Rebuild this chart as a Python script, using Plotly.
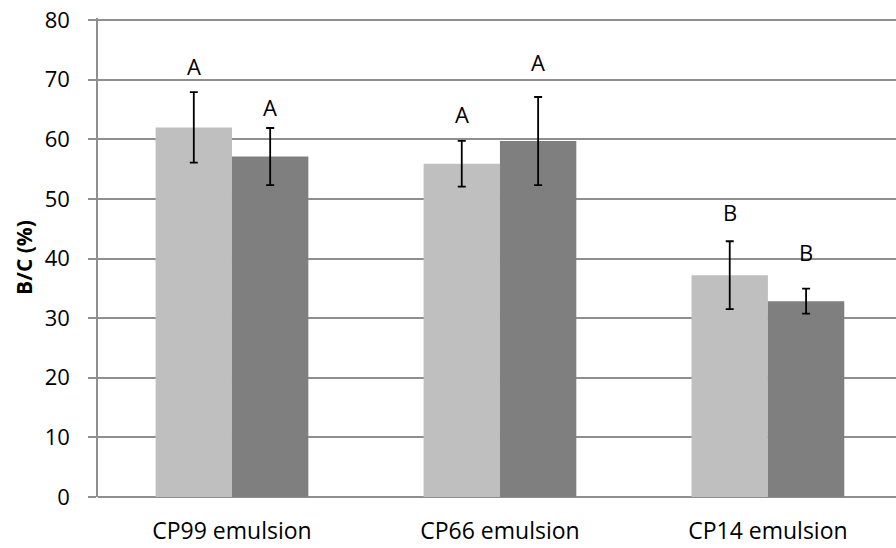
import plotly.graph_objects as go

categories = ["CP99 emulsion", "CP66 emulsion", "CP14 emulsion"]
series1_values = [62.0, 55.9, 37.2]
series1_err = [5.9, 3.85, 5.7]
series2_values = [57.1, 59.7, 32.85]
series2_err = [4.8, 7.4, 2.1]
series1_letters = ["A", "A", "B"]
series2_letters = ["A", "A", "B"]
series1_letter_y = [72.3, 64.2, 47.8]
series2_letter_y = [65.5, 73.0, 41.1]
y_ticks = [0, 10, 20, 30, 40, 50, 60, 70, 80]

FONT = "Open Sans"
GRID = "#8f8f8f"
fig = go.Figure()
fig.add_trace(go.Bar(
    x=categories, y=series1_values, name="S1",
    marker=dict(color="#bfbfbf", line=dict(width=0)),
    error_y=dict(type="data", array=series1_err, color="black", thickness=1.8, width=4),
))
fig.add_trace(go.Bar(
    x=categories, y=series2_values, name="S2",
    marker=dict(color="#7f7f7f", line=dict(width=0)),
    error_y=dict(type="data", array=series2_err, color="black", thickness=1.8, width=4),
))

for i, c in enumerate(categories):
    fig.add_annotation(x=c, y=series1_letter_y[i], text=series1_letters[i], showarrow=False,
                       xshift=-38, font=dict(family=FONT, size=22, color="black"))
    fig.add_annotation(x=c, y=series2_letter_y[i], text=series2_letters[i], showarrow=False,
                       xshift=38, font=dict(family=FONT, size=22, color="black"))

fig.update_layout(
    width=896, height=548,
    margin=dict(l=98, r=0, t=18, b=51, autoexpand=False),
    paper_bgcolor="white", plot_bgcolor="white",
    barmode="group", bargap=0.43, bargroupgap=0,
    showlegend=False,
    font=dict(family=FONT, size=22, color="black"),
    xaxis=dict(range=[-0.5, 2.478], showgrid=False, showline=False, ticks="",
               tickfont=dict(family=FONT, size=23), zeroline=False, ticklabelstandoff=18,
               automargin=False),
    yaxis=dict(range=[0, 80.35], tickvals=y_ticks, showgrid=True, gridcolor=GRID, gridwidth=1.5,
               showline=True, linecolor=GRID, linewidth=1.5, ticks="outside", ticklen=8,
               tickcolor=GRID, tickwidth=1.5, zeroline=True, zerolinecolor=GRID,
               zerolinewidth=1.5, tickfont=dict(family=FONT, size=22), ticklabelstandoff=14,
               automargin=False,
               title=dict(text="<b>B/C (%)</b>", font=dict(family=FONT, size=21), standoff=6)),
)

fig.write_html("out.html", config={"displayModeBar": False},
               post_script="document.body.style.margin='0px';document.body.style.overflow='hidden';")
